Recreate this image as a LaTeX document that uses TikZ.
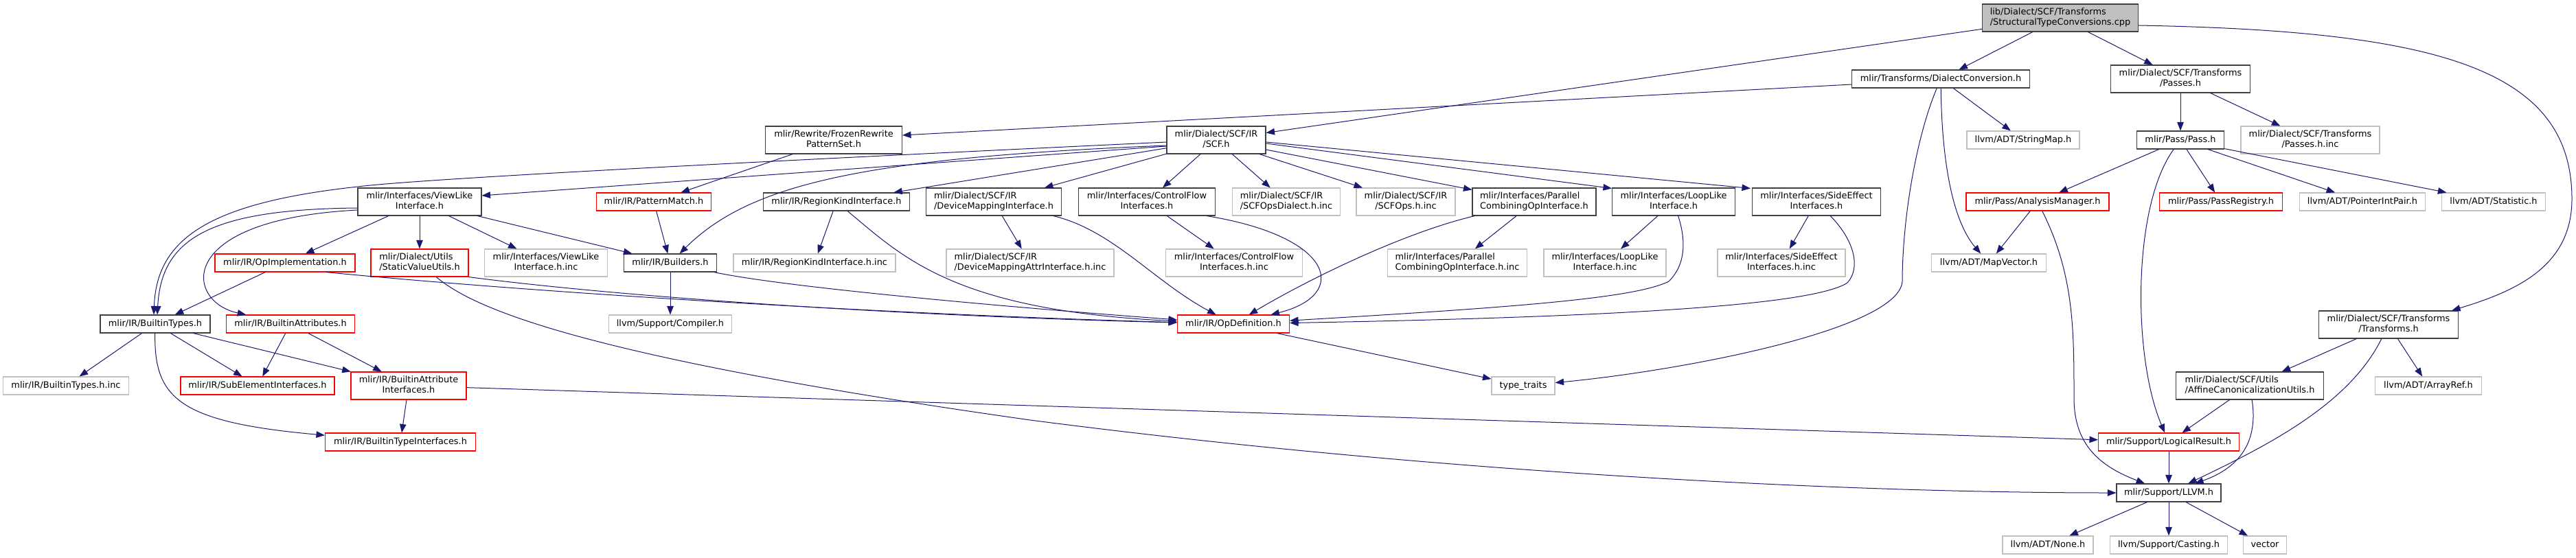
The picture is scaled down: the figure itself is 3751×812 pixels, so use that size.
\documentclass[tikz,border=0pt]{standalone}
\usepackage{fontspec}
\setmainfont{DejaVu Sans}
\usetikzlibrary{arrows.meta}
\definecolor{edgeblue}{HTML}{191970}
\definecolor{grey25}{HTML}{404040}
\definecolor{grey75}{HTML}{BFBFBF}
\newcommand{\flbl}[2]{\begin{tabular}{@{}l@{}}#1\\\multicolumn{1}{@{}c@{}}{#2}\end{tabular}}

\begin{document}
\begin{tikzpicture}[x=1pt,y=-1pt,font=\fontsize{12.9}{15}\selectfont,
  hdr/.style={draw=grey25,line width=1.1pt,fill=white,inner xsep=0pt,inner ysep=0pt},
  trunc/.style={hdr,draw=red},
  ext/.style={hdr,draw=grey75},
  one/.style={minimum height=26pt,text height=9.7pt,text depth=2.9pt},
  two/.style={minimum height=40pt},
  w/.style={minimum width=#1pt},
  dep/.style={draw=edgeblue,line width=1pt,-{Triangle[length=12.5pt,width=9.5pt]}}]
\useasboundingbox (0,0) rectangle (3751,812);
\node[hdr,fill=grey75,two,w=227] (root) at (3000,26) {\flbl{lib/Dialect/SCF/Transforms}{/StructuralTypeConversions.cpp}};
\node[hdr,one,w=259] (dconv) at (2826,115) {mlir/Transforms/DialectConversion.h};
\node[hdr,two,w=203] (passes) at (3175,115) {\flbl{mlir/Dialect/SCF/Transforms}{/Passes.h}};
\node[hdr,two,w=199] (frozen) at (1214,204) {\flbl{mlir/Rewrite/FrozenRewrite}{PatternSet.h}};
\node[hdr,two,w=144] (scf) at (1771,204) {\flbl{mlir/Dialect/SCF/IR}{/SCF.h}};
\node[ext,one,w=164] (stringmap) at (2946,204) {llvm/ADT/StringMap.h};
\node[hdr,one,w=127] (pass) at (3175,204) {mlir/Pass/Pass.h};
\node[ext,two,w=202] (passesinc) at (3364,204) {\flbl{mlir/Dialect/SCF/Transforms}{/Passes.h.inc}};
\node[hdr,two,w=180] (viewlike) at (611,294) {\flbl{mlir/Interfaces/ViewLike}{Interface.h}};
\node[trunc,one,w=167] (patmatch) at (952,294) {mlir/IR/PatternMatch.h};
\node[hdr,one,w=213] (regionkind) at (1218,294) {mlir/IR/RegionKindInterface.h};
\node[hdr,two,w=197] (devmap) at (1447,294) {\flbl{mlir/Dialect/SCF/IR}{/DeviceMappingInterface.h}};
\node[hdr,two,w=199] (cflow) at (1670,294) {\flbl{mlir/Interfaces/ControlFlow}{Interfaces.h}};
\node[ext,two,w=157] (opsdialect) at (1873,294) {\flbl{mlir/Dialect/SCF/IR}{/SCFOpsDialect.h.inc}};
\node[ext,two,w=144] (scfops) at (2047,294) {\flbl{mlir/Dialect/SCF/IR}{/SCFOps.h.inc}};
\node[hdr,two,w=180] (parallel) at (2234,294) {\flbl{mlir/Interfaces/Parallel}{CombiningOpInterface.h}};
\node[hdr,two,w=179] (looplike) at (2437,294) {\flbl{mlir/Interfaces/LoopLike}{Interface.h}};
\node[hdr,two,w=187] (sideeff) at (2645,294) {\flbl{mlir/Interfaces/SideEffect}{Interfaces.h}};
\node[trunc,one,w=208] (analysis) at (2967,294) {mlir/Pass/AnalysisManager.h};
\node[trunc,one,w=179] (passreg) at (3234,294) {mlir/Pass/PassRegistry.h};
\node[ext,one,w=183] (ptrint) at (3440,294) {llvm/ADT/PointerIntPair.h};
\node[ext,one,w=151] (statistic) at (3631,294) {llvm/ADT/Statistic.h};
\node[trunc,one,w=204] (opimpl) at (415,383) {mlir/IR/OpImplementation.h};
\node[trunc,two,w=142] (staticval) at (611,383) {\flbl{mlir/Dialect/Utils}{/StaticValueUtils.h}};
\node[ext,two,w=179] (viewlikeinc) at (795,383) {\flbl{mlir/Interfaces/ViewLike}{Interface.h.inc}};
\node[hdr,one,w=135] (builders) at (976,383) {mlir/IR/Builders.h};
\node[ext,one,w=236] (regionkindinc) at (1186,383) {mlir/IR/RegionKindInterface.h.inc};
\node[ext,two,w=244] (devmapinc) at (1500,383) {\flbl{mlir/Dialect/SCF/IR}{/DeviceMappingAttrInterface.h.inc}};
\node[ext,two,w=199] (cflowinc) at (1797,383) {\flbl{mlir/Interfaces/ControlFlow}{Interfaces.h.inc}};
\node[ext,two,w=203] (parallelinc) at (2122,383) {\flbl{mlir/Interfaces/Parallel}{CombiningOpInterface.h.inc}};
\node[ext,two,w=178] (looplikeinc) at (2337,383) {\flbl{mlir/Interfaces/LoopLike}{Interface.h.inc}};
\node[ext,two,w=186] (sideeffinc) at (2594,383) {\flbl{mlir/Interfaces/SideEffect}{Interfaces.h.inc}};
\node[ext,one,w=167] (mapvector) at (2896,383) {llvm/ADT/MapVector.h};
\node[hdr,one,w=160] (btypes) at (226,472) {mlir/IR/BuiltinTypes.h};
\node[trunc,one,w=187] (battrs) at (423,472) {mlir/IR/BuiltinAttributes.h};
\node[ext,one,w=179] (compiler) at (976,472) {llvm/Support/Compiler.h};
\node[trunc,one,w=163] (opdef) at (1796,472) {mlir/IR/OpDefinition.h};
\node[hdr,two,w=203] (transforms) at (3478,473) {\flbl{mlir/Dialect/SCF/Transforms}{/Transforms.h}};
\node[ext,one,w=183] (btypesinc) at (96,562) {mlir/IR/BuiltinTypes.h.inc};
\node[trunc,one,w=224] (subelem) at (375,562) {mlir/IR/SubElementInterfaces.h};
\node[trunc,two,w=168] (battrif) at (595,562) {\flbl{mlir/IR/BuiltinAttribute}{Interfaces.h}};
\node[ext,one,w=92] (typetraits) at (2218,562) {type\_traits};
\node[hdr,two,w=215] (affine) at (3276,562) {\flbl{mlir/Dialect/SCF/Utils}{/AffineCanonicalizationUtils.h}};
\node[ext,one,w=155] (arrayref) at (3536,562) {llvm/ADT/ArrayRef.h};
\node[trunc,one,w=219] (btypeif) at (583,644) {mlir/IR/BuiltinTypeInterfaces.h};
\node[trunc,one,w=205] (logical) at (3158,644) {mlir/Support/LogicalResult.h};
\node[hdr,one,w=152] (llvmh) at (3158,718) {mlir/Support/LLVM.h};
\node[ext,one,w=132] (nonehdr) at (2982,794) {llvm/ADT/None.h};
\node[ext,one,w=171] (casting) at (3158,794) {llvm/Support/Casting.h};
\node[ext,one,w=63] (vector) at (3298,794) {vector};

\draw[dep] (root) -- (scf);
\draw[dep] (root) -- (dconv);
\draw[dep] (root) -- (passes);
\draw[dep] ([yshift=-11pt]root.east) .. controls (3550,45) and (3745,100) .. (3745,290) .. controls (3745,390) and (3660,425) .. ([xshift=-10pt]transforms.north east);
\draw[dep] ([yshift=-8pt]dconv.west) -- ([yshift=7pt]frozen.east);
\draw[dep] (dconv) -- (stringmap);
\draw[dep] (dconv) .. controls (2828,260) and (2850,330) .. (mapvector);
\draw[dep] (dconv) .. controls (2790,200) and (2770,320) .. (2770,410) .. controls (2765,480) and (2450,540) .. (typetraits);
\draw[dep] (passes) -- (pass);
\draw[dep] (passes) -- (passesinc);
\draw[dep] (frozen) -- (patmatch);
\draw[dep] ([yshift=-9pt]scf.west) -- ([yshift=9pt]viewlike.east);
\draw[dep] ([yshift=-3pt]scf.west) .. controls (1000,240) and (600,262) .. (521,272) .. controls (300,296) and (228,350) .. ([xshift=-2pt]btypes.north);
\draw[dep] ([yshift=-8pt]scf.west) .. controls (1250,230) and (1090,270) .. (builders);
\foreach \dst in {regionkind,devmap,cflow,opsdialect,scfops,parallel}
  \draw[dep] (scf) -- (\dst);
\draw[dep] ([yshift=-5pt]scf.east) -- ([yshift=-1pt]looplike.north west);
\draw[dep] ([yshift=-3pt]scf.east) -- ([xshift=-2pt,yshift=-1pt]sideeff.north west);
\foreach \dst in {analysis,passreg,ptrint,statistic}
  \draw[dep] (pass) -- (\dst);
\draw[dep] (pass) .. controls (3105,300) and (3105,520) .. (logical);
\foreach \dst in {opimpl,staticval,viewlikeinc,builders}
  \draw[dep] (viewlike) -- (\dst);
\draw[dep] ([yshift=-9pt]viewlike.west) .. controls (300,305) and (235,350) .. ([xshift=3pt]btypes.north);
\draw[dep] ([yshift=-12pt]viewlike.west) .. controls (250,320) and (270,440) .. (battrs);
\draw[dep] (patmatch) -- (builders);
\draw[dep] (regionkind) -- (regionkindinc);
\draw[dep] (regionkind) .. controls (1315,375) and (1390,452) .. (opdef);
\draw[dep] (devmap) -- (devmapinc);
\draw[dep] (devmap) .. controls (1620,335) and (1680,410) .. (opdef);
\draw[dep] (cflow) -- (cflowinc);
\draw[dep] ([xshift=-13pt]cflow.south east) .. controls (1945,345) and (1965,430) .. (opdef);
\draw[dep] (parallel) -- (parallelinc);
\draw[dep] (parallel) .. controls (2040,340) and (1900,410) .. (opdef);
\draw[dep] (looplike) -- (looplikeinc);
\draw[dep] (looplike) .. controls (2455,350) and (2455,385) .. (2430,410) .. controls (2380,435) and (2200,448) .. (opdef);
\draw[dep] (sideeff) -- (sideeffinc);
\draw[dep] (sideeff) .. controls (2700,350) and (2710,390) .. (2690,412) .. controls (2640,445) and (2350,462) .. (opdef);
\draw[dep] (analysis) -- (mapvector);
\draw[dep] (analysis) .. controls (3020,400) and (3020,480) .. (3020,580) .. controls (3020,650) and (3060,680) .. (llvmh);
\draw[dep] (opimpl) -- (btypes);
\draw[dep] ([xshift=-43pt]opimpl.south east) .. controls (800,428) and (1300,458) .. (opdef);
\draw[dep] (staticval.south east) .. controls (900,432) and (1300,460) .. (opdef);
\draw[dep] (staticval) .. controls (690,450) and (850,520) .. (1500,612) .. controls (2100,690) and (2700,718) .. (llvmh);
\draw[dep] (builders) -- (compiler);
\draw[dep] (builders) .. controls (1150,420) and (1500,450) .. (opdef);
\foreach \dst in {btypesinc,subelem,battrif}
  \draw[dep] (btypes) -- (\dst);
\draw[dep] (btypes) .. controls (224,580) and (260,615) .. (btypeif);
\draw[dep] (battrs) -- (subelem);
\draw[dep] (battrs) -- (battrif);
\draw[dep] (battrif) -- (btypeif);
\draw[dep] (battrif) -- (logical);
\draw[dep] (opdef) -- (typetraits);
\draw[dep] (transforms) -- (affine);
\draw[dep] (transforms) .. controls (3420,590) and (3300,650) .. (llvmh);
\draw[dep] (transforms) -- (arrayref);
\draw[dep] (affine) -- (logical);
\draw[dep] (affine) .. controls (3288,640) and (3265,680) .. (llvmh);
\draw[dep] (logical) -- (llvmh);
\foreach \dst in {nonehdr,casting,vector}
  \draw[dep] (llvmh) -- (\dst);
\end{tikzpicture}
\end{document}
